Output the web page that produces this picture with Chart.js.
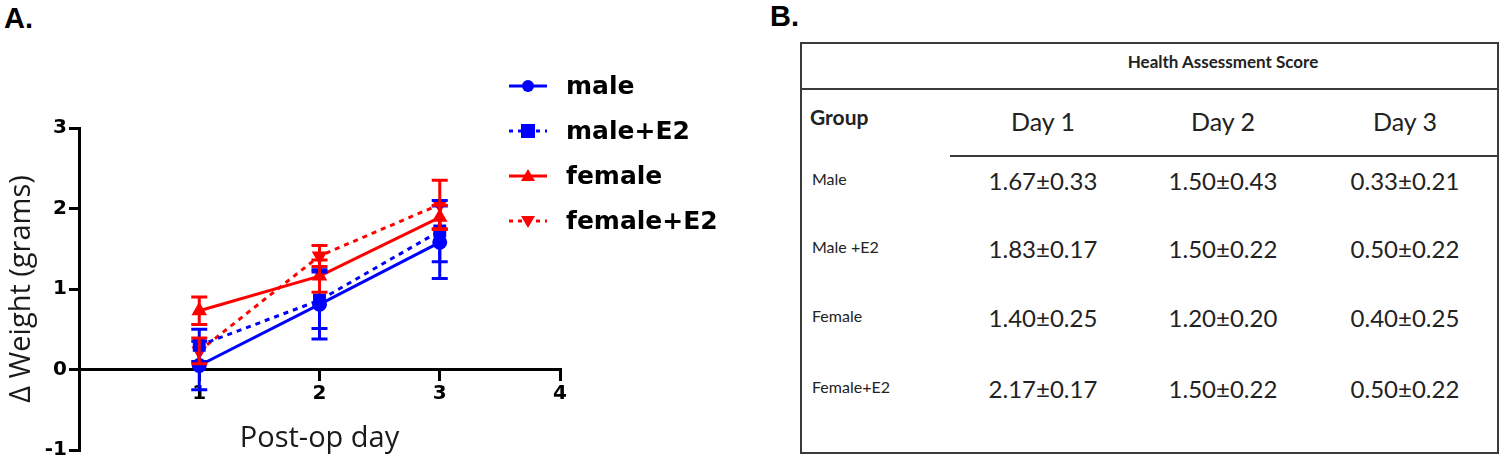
<!DOCTYPE html>
<html>
<head>
<meta charset="utf-8">
<script src="https://cdn.jsdelivr.net/npm/chart.js@4/dist/chart.umd.min.js"></script>
<style>
  body { margin: 0; background: #fff; width: 1500px; height: 460px; position: relative; overflow: hidden; }
  #chart { position: absolute; left: 0; top: 0; }
  .panel { position: absolute; font-family: Arial, 'Liberation Sans', sans-serif; font-weight: bold; font-size: 29px; }
  #legend { position: absolute; left: 508px; top: 63px; font-family: 'DejaVu Sans', sans-serif; font-weight: bold; font-size: 25px; }
  #legend .row { height: 45px; display: flex; align-items: center; }
  #legend svg { margin-right: 18px; }
  #table { position: absolute; left: 800px; top: 42px; width: 695px; height: 408px; border: 2px solid #3a3a3a; font-family: Lato, 'Open Sans', sans-serif; color: #222; }
  #table div { position: absolute; white-space: nowrap; }
</style>
</head>
<body>
<div class="panel" style="left:4px; top:2px;">A.</div>
<div class="panel" style="left:770px; top:0px;">B.</div>
<canvas id="chart" width="760" height="460"></canvas>
<div id="legend"></div>
<div id="table"></div>
<script>
'use strict';

// chart data
const days = [1, 2, 3];
const seriesNames = ['male', 'male+E2', 'female', 'female+E2'];
const maleMean = [0.05, 0.81, 1.58];
const maleErr = [0.3, 0.43, 0.45];
const maleE2Mean = [0.3, 0.86, 1.72];
const maleE2Err = [0.2, 0.35, 0.38];
const femaleMean = [0.73, 1.16, 1.89];
const femaleErr = [0.17, 0.2, 0.15];
const femaleE2Mean = [0.23, 1.41, 2.05];
const femaleE2Err = [0.16, 0.13, 0.3];
const yTicks = [-1, 0, 1, 2, 3];
const xTicks = [1, 2, 3, 4];

// table data
const groups = ['Male', 'Male +E2', 'Female', 'Female+E2'];
const dayHeaders = ['Day 1', 'Day 2', 'Day 3'];
const scoreRows = [
  ['1.67±0.33', '1.50±0.43', '0.33±0.21'],
  ['1.83±0.17', '1.50±0.22', '0.50±0.22'],
  ['1.40±0.25', '1.20±0.20', '0.40±0.25'],
  ['2.17±0.17', '1.50±0.22', '0.50±0.22']
];

const blue = '#0000ff';
const red = '#ff0000';

function makeSet(label, means, errs, color, dashed, marker, rot) {
  return {
    label: label,
    data: days.map((d, i) => ({ x: d, y: means[i] })),
    errors: errs,
    borderColor: color,
    backgroundColor: color,
    borderWidth: 3,
    borderDash: dashed ? [5, 5] : [],
    pointStyle: marker,
    pointRotation: rot || 0,
    pointRadius: marker === 'rect' ? 7 : 6,
    fill: false,
    tension: 0
  };
}

const allSets = [
  makeSet(seriesNames[0], maleMean, maleErr, blue, false, 'circle'),
  makeSet(seriesNames[1], maleE2Mean, maleE2Err, blue, true, 'rect'),
  makeSet(seriesNames[2], femaleMean, femaleErr, red, false, 'triangle'),
  makeSet(seriesNames[3], femaleE2Mean, femaleE2Err, red, true, 'triangle', 180)
];

// draw the SEM bars with the chart's own scales
const errorBars = {
  id: 'errorBars',
  afterDatasetsDraw(chart) {
    let ctx = chart.ctx;
    let xs = chart.scales.x;
    let ys = chart.scales.y;
    chart.data.datasets.forEach((ds) => {
      ctx.save();
      ctx.strokeStyle = ds.borderColor;
      ctx.lineWidth = 3;
      ds.data.forEach((p, i) => {
        let px = xs.getPixelForValue(p.x);
        let top = ys.getPixelForValue(p.y + ds.errors[i]);
        let bot = ys.getPixelForValue(p.y - ds.errors[i]);
        ctx.beginPath();
        ctx.moveTo(px, top); ctx.lineTo(px, bot);
        ctx.moveTo(px - 8, top); ctx.lineTo(px + 8, top);
        ctx.moveTo(px - 8, bot); ctx.lineTo(px + 8, bot);
        ctx.stroke();
      });
      ctx.restore();
    });
  }
};

new Chart(document.getElementById('chart'), {
  type: 'line',
  data: { datasets: allSets },
  options: {
    responsive: false,
    animation: false,
    layout: { padding: { top: 128, right: 200, bottom: 5, left: 0 } },
    plugins: { legend: { display: false }, tooltip: { enabled: false } },
    scales: {
      x: {
        type: 'linear',
        position: { y: 0 },
        min: 0,
        max: 4,
        afterBuildTicks: (s) => { s.ticks = [0].concat(xTicks).map(v => ({ value: v })); },
        ticks: {
          color: '#000',
          font: { family: 'DejaVu Sans', weight: 'bold', size: 20 },
          padding: 2,
          callback: (v) => v === 0 ? '' : v
        },
        grid: { drawOnChartArea: false, drawTicks: true, tickLength: 10, color: '#000', lineWidth: 3 },
        border: { color: '#000', width: 3 },
        title: { display: true, text: 'Post-op day', color: '#1a1a1a', font: { family: 'Open Sans', size: 29 }, padding: { top: 14, bottom: 0 } }
      },
      y: {
        min: -1,
        max: 3,
        afterBuildTicks: (s) => { s.ticks = yTicks.map(v => ({ value: v })); },
        afterFit: (s) => { s.width = 79; s.paddingTop = 0; s.paddingBottom = 0; },
        ticks: { color: '#000', font: { family: 'DejaVu Sans', weight: 'bold', size: 20 }, padding: 2 },
        grid: { drawOnChartArea: false, drawTicks: true, tickLength: 10, color: '#000', lineWidth: 3 },
        border: { color: '#000', width: 3 },
        title: { display: true, text: 'Δ Weight (grams)', color: '#1a1a1a', font: { family: 'Open Sans', size: 29 }, padding: { top: 4, bottom: 0 } }
      }
    }
  },
  plugins: [errorBars]
});

// legend
let legendBox = document.getElementById('legend');
allSets.forEach((ds) => {
  let row = document.createElement('div');
  row.className = 'row';
  let c = ds.borderColor;
  let dash = ds.borderDash.length ? ' stroke-dasharray="4 5"' : '';
  let mark = '';
  if (ds.pointStyle === 'circle') mark = `<circle cx="20" cy="10" r="6" fill="${c}"/>`;
  if (ds.pointStyle === 'rect') mark = `<rect x="13" y="3" width="14" height="14" fill="${c}"/>`;
  if (ds.pointStyle === 'triangle' && !ds.pointRotation) mark = `<polygon points="20,3 27,15 13,15" fill="${c}"/>`;
  if (ds.pointStyle === 'triangle' && ds.pointRotation) mark = `<polygon points="20,17 27,5 13,5" fill="${c}"/>`;
  row.innerHTML = `<svg width="40" height="20"><line x1="1" y1="10" x2="39" y2="10" stroke="${c}" stroke-width="3"${dash}/>${mark}</svg><span>${ds.label}</span>`;
  legendBox.appendChild(row);
});

// table
let table = document.getElementById('table');
function put(text, x, y, css) {
  let d = document.createElement('div');
  d.textContent = text;
  d.style.cssText = `left:${x}px; top:${y}px; ${css || ''}`;
  table.appendChild(d);
  return d;
}
put('Health Assessment Score', 296, 7, 'font-weight:bold; font-size:17px; width:250px; text-align:center;');
put('', 0, 44, 'width:695px; border-top:2px solid #3a3a3a;');
put('', 148, 111, 'width:547px; border-top:2px solid #3a3a3a;');
put('Group', 8, 60, 'font-weight:bold; font-size:21px;');
let colX = [241, 421, 603];
let rowY = [126, 194, 263, 334];
dayHeaders.forEach((h, j) => {
  put(h, colX[j] - 80, 62, 'font-size:25px; width:160px; text-align:center;');
});
groups.forEach((g, i) => {
  put(g, 10, rowY[i] - 1, 'font-size:16px;');
  scoreRows[i].forEach((v, j) => {
    put(v, colX[j] - 80, rowY[i] - 4, 'font-size:24px; width:160px; text-align:center;');
  });
});
</script>
</body>
</html>
